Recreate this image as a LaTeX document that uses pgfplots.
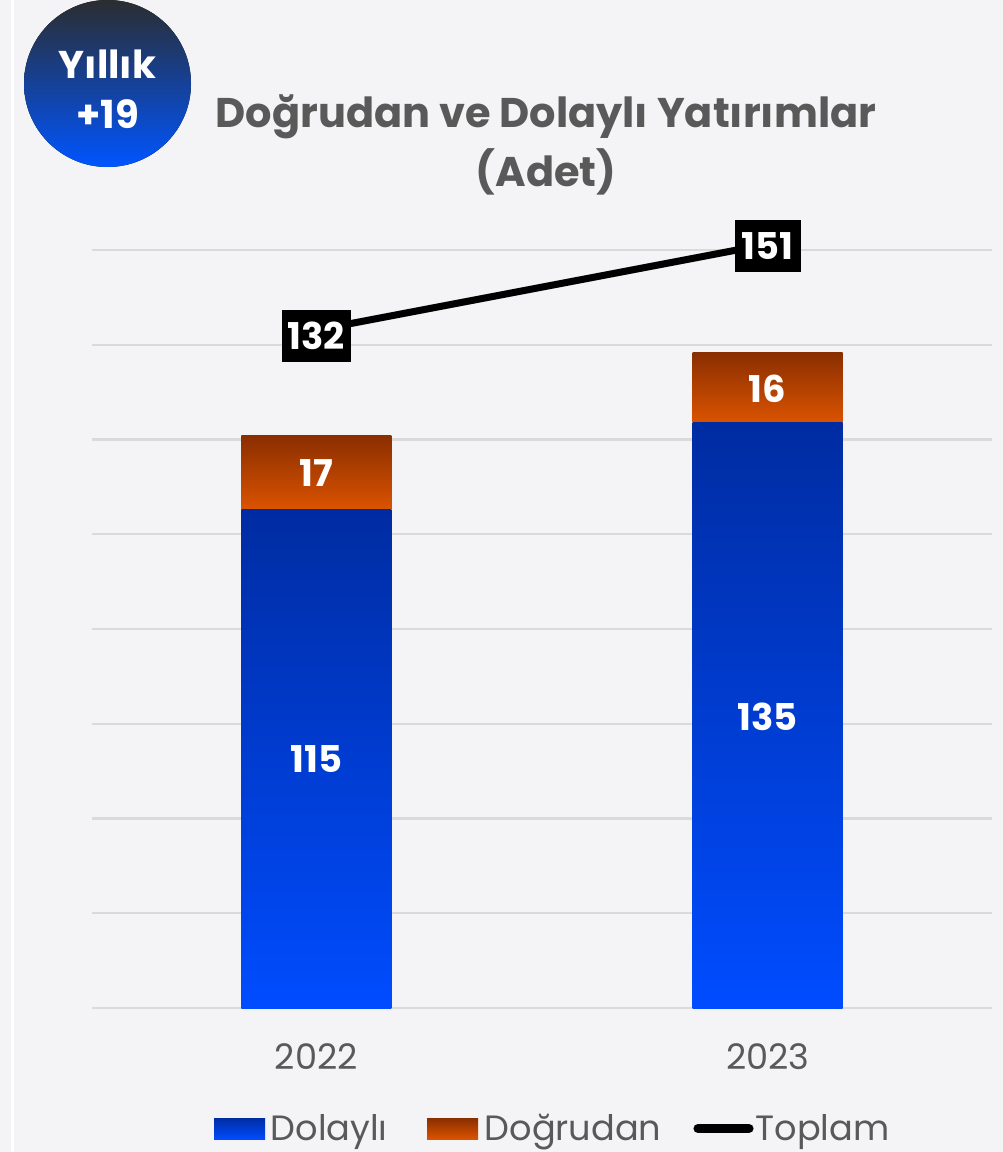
\documentclass[border=0pt]{standalone}
\usepackage{fontspec}
\setmainfont{Poppins}
\usepackage{pgfplots}
\pgfplotsset{compat=1.18}
\definecolor{bg}{HTML}{F4F4F6}
\definecolor{titlegray}{HTML}{595959}
\definecolor{gridc}{HTML}{DADADA}
\definecolor{bluetop}{HTML}{002CA2}
\definecolor{bluebot}{HTML}{004CFF}
\definecolor{orgtop}{HTML}{8A2E00}
\definecolor{orgbot}{HTML}{DA5300}
\definecolor{badgetop}{HTML}{2B2D30}
\definecolor{badgemid}{HTML}{1F3C9E}
\definecolor{badgebot}{HTML}{0055FF}
\pgfplotsset{base/.style={at={(9.2mm,-100.8mm)}, anchor=south west, scale only axis,
  width=90mm, height=75.8mm, xmin=-0.497, xmax=1.497, clip=false}}
\newcommand{\lbl}{\bfseries\fontsize{10.5}{12}\selectfont}

\begin{document}
\begin{tikzpicture}
% page
\fill[bg] (0,0) rectangle (100.3mm,-115.2mm);
\fill[white] (1.05mm,0) rectangle (1.35mm,-115.2mm);

% badge
\fill[top color=badgetop, middle color=badgemid, bottom color=badgebot] (10.75mm,-8.35mm) circle (8.35mm);
\node[text=white, font=\bfseries\fontsize{11}{13}\selectfont] at (10.75mm,-6.4mm) {Yıllık};
\node[text=white, font=\bfseries\fontsize{11}{13}\selectfont] at (10.75mm,-11.4mm) {+19};

% title
\node[text=titlegray, font=\bfseries\fontsize{11.8}{14}\selectfont] at (54.6mm,-11.7mm) {Doğrudan ve Dolaylı Yatırımlar};
\node[text=titlegray, font=\bfseries\fontsize{11.8}{14}\selectfont] at (54.6mm,-17.2mm) {(Adet)};

% 2022 bars + grid + ticks
\begin{axis}[base, ymin=0, ymax=174.7,
  ybar stacked, bar width=15mm,
  separate axis lines, axis x line*=bottom, axis y line*=left,
  y axis line style={draw=none}, x axis line style={gridc, line width=0.7pt},
  ytick={21.84,43.68,65.51,87.35,109.19,131.03,152.86,174.7},
  yticklabels={}, major tick length=0pt,
  ymajorgrids, grid style={gridc, line width=0.6pt},
  xtick={0,1}, xticklabels={2022,2023},
  x tick label style={text=titlegray, font=\fontsize{10}{12}\selectfont, yshift=-2.3mm}]
\addplot[draw=none, top color=bluetop, bottom color=bluebot] coordinates {(0,115)};
\addplot[draw=none, top color=orgtop, bottom color=orgbot] coordinates {(0,17)};
\end{axis}

% 2023 bars
\begin{axis}[base, ymin=0, ymax=174.7, ybar stacked, bar width=15mm, hide axis]
\addplot[draw=none, top color=bluetop, bottom color=bluebot] coordinates {(1,135)};
\addplot[draw=none, top color=orgtop, bottom color=orgbot] coordinates {(1,16)};
\end{axis}

% total line (own scale) and all value labels
\begin{axis}[base, ymin=-17.8, ymax=149.7, hide axis]
\addplot[black, line width=2pt, mark=none] coordinates {(0,132) (1,151)};
\node[fill=black, text=white, font=\lbl, minimum width=6.9mm, minimum height=5.2mm, inner sep=0pt, yshift=-0.6mm] at (axis cs:0,132) {132};
\node[fill=black, text=white, font=\lbl, minimum width=6.6mm, minimum height=5.2mm, inner sep=0pt, yshift=-0.2mm] at (axis cs:1,151) {151};
% bar labels, bar scale 0..174.7 mapped onto -17.8..149.7
\node[text=white, font=\lbl] at (axis cs:0,37.14) {115};
\node[text=white, font=\lbl] at (axis cs:1,46.44) {135};
\node[text=white, font=\lbl] at (axis cs:0,100.42) {17};
\node[text=white, font=\lbl] at (axis cs:1,119.02) {16};
\end{axis}

% legend
\fill[top color=bluetop, bottom color=bluebot] (21.4mm,-111.8mm) rectangle (26.5mm,-113.9mm);
\node[anchor=base west, text=titlegray, font=\fontsize{10}{12}\selectfont, inner sep=0pt] at (27.0mm,-114.0mm) {Dolaylı};
\fill[top color=orgtop, bottom color=orgbot] (42.7mm,-111.8mm) rectangle (47.8mm,-113.9mm);
\node[anchor=base west, text=titlegray, font=\fontsize{10}{12}\selectfont, inner sep=0pt] at (48.4mm,-114.0mm) {Doğrudan};
\draw[black, line width=2.6pt, line cap=round] (69.8mm,-112.85mm) -- (74.9mm,-112.85mm);
\node[anchor=base west, text=titlegray, font=\fontsize{10}{12}\selectfont, inner sep=0pt] at (75.5mm,-114.0mm) {Toplam};
\end{tikzpicture}
\end{document}
